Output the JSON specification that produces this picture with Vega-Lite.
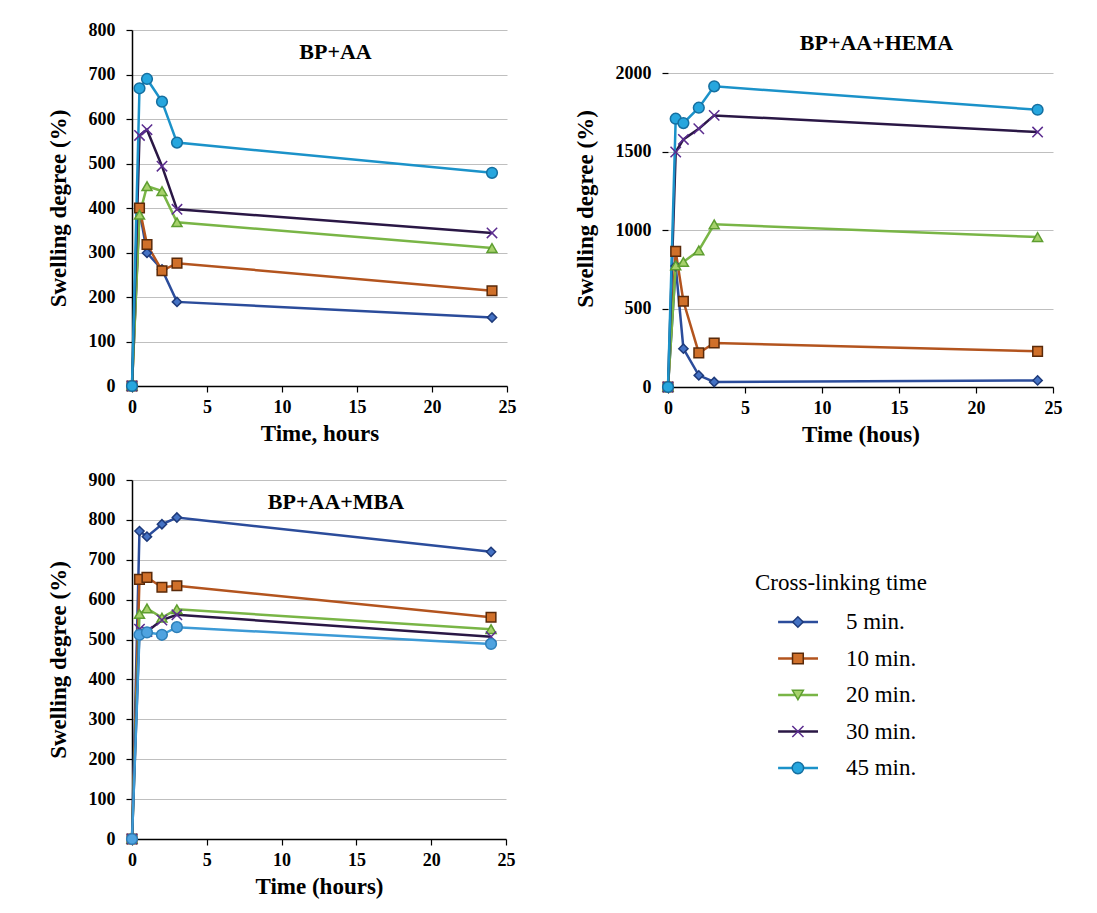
{
  "$schema": "https://vega.github.io/schema/vega-lite/v6.json",
  "background": "white",
  "padding": {"left": 47, "top": 21, "right": 5, "bottom": 5},
  "bounds": "flush",
  "columns": 2,
  "spacing": {"row": 93, "column": 161},
  "datasets": {
    "main": [
      {"panel": "BP+AA", "series": "5 min.", "time": 0, "value": 0},
      {"panel": "BP+AA", "series": "5 min.", "time": 0.5, "value": 395},
      {"panel": "BP+AA", "series": "5 min.", "time": 1, "value": 299},
      {"panel": "BP+AA", "series": "5 min.", "time": 2, "value": 262},
      {"panel": "BP+AA", "series": "5 min.", "time": 3, "value": 189},
      {"panel": "BP+AA", "series": "5 min.", "time": 24, "value": 154},
      {"panel": "BP+AA", "series": "10 min.", "time": 0, "value": 0},
      {"panel": "BP+AA", "series": "10 min.", "time": 0.5, "value": 400},
      {"panel": "BP+AA", "series": "10 min.", "time": 1, "value": 318},
      {"panel": "BP+AA", "series": "10 min.", "time": 2, "value": 259},
      {"panel": "BP+AA", "series": "10 min.", "time": 3, "value": 276},
      {"panel": "BP+AA", "series": "10 min.", "time": 24, "value": 214},
      {"panel": "BP+AA", "series": "20 min.", "time": 0, "value": 0},
      {"panel": "BP+AA", "series": "20 min.", "time": 0.5, "value": 385},
      {"panel": "BP+AA", "series": "20 min.", "time": 1, "value": 449},
      {"panel": "BP+AA", "series": "20 min.", "time": 2, "value": 438},
      {"panel": "BP+AA", "series": "20 min.", "time": 3, "value": 368},
      {"panel": "BP+AA", "series": "20 min.", "time": 24, "value": 310},
      {"panel": "BP+AA", "series": "30 min.", "time": 0, "value": 0},
      {"panel": "BP+AA", "series": "30 min.", "time": 0.5, "value": 563},
      {"panel": "BP+AA", "series": "30 min.", "time": 1, "value": 576},
      {"panel": "BP+AA", "series": "30 min.", "time": 2, "value": 494},
      {"panel": "BP+AA", "series": "30 min.", "time": 3, "value": 397},
      {"panel": "BP+AA", "series": "30 min.", "time": 24, "value": 344},
      {"panel": "BP+AA", "series": "45 min.", "time": 0, "value": 0},
      {"panel": "BP+AA", "series": "45 min.", "time": 0.5, "value": 669},
      {"panel": "BP+AA", "series": "45 min.", "time": 1, "value": 690},
      {"panel": "BP+AA", "series": "45 min.", "time": 2, "value": 639},
      {"panel": "BP+AA", "series": "45 min.", "time": 3, "value": 547},
      {"panel": "BP+AA", "series": "45 min.", "time": 24, "value": 479},
      {"panel": "BP+AA+HEMA", "series": "5 min.", "time": 0, "value": 0},
      {"panel": "BP+AA+HEMA", "series": "5 min.", "time": 0.5, "value": 770},
      {"panel": "BP+AA+HEMA", "series": "5 min.", "time": 1, "value": 244},
      {"panel": "BP+AA+HEMA", "series": "5 min.", "time": 2, "value": 74},
      {"panel": "BP+AA+HEMA", "series": "5 min.", "time": 3, "value": 32},
      {"panel": "BP+AA+HEMA", "series": "5 min.", "time": 24, "value": 42},
      {"panel": "BP+AA+HEMA", "series": "10 min.", "time": 0, "value": 0},
      {"panel": "BP+AA+HEMA", "series": "10 min.", "time": 0.5, "value": 864},
      {"panel": "BP+AA+HEMA", "series": "10 min.", "time": 1, "value": 546},
      {"panel": "BP+AA+HEMA", "series": "10 min.", "time": 2, "value": 217},
      {"panel": "BP+AA+HEMA", "series": "10 min.", "time": 3, "value": 280},
      {"panel": "BP+AA+HEMA", "series": "10 min.", "time": 24, "value": 227},
      {"panel": "BP+AA+HEMA", "series": "20 min.", "time": 0, "value": 0},
      {"panel": "BP+AA+HEMA", "series": "20 min.", "time": 0.5, "value": 775},
      {"panel": "BP+AA+HEMA", "series": "20 min.", "time": 1, "value": 796},
      {"panel": "BP+AA+HEMA", "series": "20 min.", "time": 2, "value": 870},
      {"panel": "BP+AA+HEMA", "series": "20 min.", "time": 3, "value": 1036},
      {"panel": "BP+AA+HEMA", "series": "20 min.", "time": 24, "value": 955},
      {"panel": "BP+AA+HEMA", "series": "30 min.", "time": 0, "value": 0},
      {"panel": "BP+AA+HEMA", "series": "30 min.", "time": 0.5, "value": 1497},
      {"panel": "BP+AA+HEMA", "series": "30 min.", "time": 1, "value": 1577},
      {"panel": "BP+AA+HEMA", "series": "30 min.", "time": 2, "value": 1645},
      {"panel": "BP+AA+HEMA", "series": "30 min.", "time": 3, "value": 1730},
      {"panel": "BP+AA+HEMA", "series": "30 min.", "time": 24, "value": 1624},
      {"panel": "BP+AA+HEMA", "series": "45 min.", "time": 0, "value": 0},
      {"panel": "BP+AA+HEMA", "series": "45 min.", "time": 0.5, "value": 1709},
      {"panel": "BP+AA+HEMA", "series": "45 min.", "time": 1, "value": 1681},
      {"panel": "BP+AA+HEMA", "series": "45 min.", "time": 2, "value": 1779},
      {"panel": "BP+AA+HEMA", "series": "45 min.", "time": 3, "value": 1915},
      {"panel": "BP+AA+HEMA", "series": "45 min.", "time": 24, "value": 1766},
      {"panel": "BP+AA+MBA", "series": "5 min.", "time": 0, "value": 0},
      {"panel": "BP+AA+MBA", "series": "5 min.", "time": 0.5, "value": 772},
      {"panel": "BP+AA+MBA", "series": "5 min.", "time": 1, "value": 758},
      {"panel": "BP+AA+MBA", "series": "5 min.", "time": 2, "value": 789},
      {"panel": "BP+AA+MBA", "series": "5 min.", "time": 3, "value": 806},
      {"panel": "BP+AA+MBA", "series": "5 min.", "time": 24, "value": 720},
      {"panel": "BP+AA+MBA", "series": "10 min.", "time": 0, "value": 0},
      {"panel": "BP+AA+MBA", "series": "10 min.", "time": 0.5, "value": 651},
      {"panel": "BP+AA+MBA", "series": "10 min.", "time": 1, "value": 656},
      {"panel": "BP+AA+MBA", "series": "10 min.", "time": 2, "value": 631},
      {"panel": "BP+AA+MBA", "series": "10 min.", "time": 3, "value": 635},
      {"panel": "BP+AA+MBA", "series": "10 min.", "time": 24, "value": 556},
      {"panel": "BP+AA+MBA", "series": "20 min.", "time": 0, "value": 0},
      {"panel": "BP+AA+MBA", "series": "20 min.", "time": 0.5, "value": 564},
      {"panel": "BP+AA+MBA", "series": "20 min.", "time": 1, "value": 578},
      {"panel": "BP+AA+MBA", "series": "20 min.", "time": 2, "value": 555},
      {"panel": "BP+AA+MBA", "series": "20 min.", "time": 3, "value": 576},
      {"panel": "BP+AA+MBA", "series": "20 min.", "time": 24, "value": 526},
      {"panel": "BP+AA+MBA", "series": "30 min.", "time": 0, "value": 0},
      {"panel": "BP+AA+MBA", "series": "30 min.", "time": 0.5, "value": 526},
      {"panel": "BP+AA+MBA", "series": "30 min.", "time": 1, "value": 520},
      {"panel": "BP+AA+MBA", "series": "30 min.", "time": 2, "value": 549},
      {"panel": "BP+AA+MBA", "series": "30 min.", "time": 3, "value": 562},
      {"panel": "BP+AA+MBA", "series": "30 min.", "time": 24, "value": 507},
      {"panel": "BP+AA+MBA", "series": "45 min.", "time": 0, "value": 0},
      {"panel": "BP+AA+MBA", "series": "45 min.", "time": 0.5, "value": 512},
      {"panel": "BP+AA+MBA", "series": "45 min.", "time": 1, "value": 518},
      {"panel": "BP+AA+MBA", "series": "45 min.", "time": 2, "value": 512},
      {"panel": "BP+AA+MBA", "series": "45 min.", "time": 3, "value": 531},
      {"panel": "BP+AA+MBA", "series": "45 min.", "time": 24, "value": 489}
    ]
  },
  "concat": [
    {
      "width": 375,
      "height": 356,
      "title": {"text": "BP+AA", "offset": -43, "dx": 16},
      "data": {"name": "main"},
      "transform": [{"filter": "datum.panel === 'BP+AA'"}],
      "encoding": {
        "x": {"field": "time", "type": "quantitative", "scale": {"domain": [0, 25], "nice": false}, "axis": {"values": [0, 5, 10, 15, 20, 25], "title": "Time, hours"}},
        "y": {"field": "value", "type": "quantitative", "scale": {"domain": [0, 800], "nice": false}, "axis": {"values": [0, 100, 200, 300, 400, 500, 600, 700, 800], "title": "Swelling degree (%)", "format": "d"}}
      },
      "layer": [
        {
          "mark": {"type": "line", "strokeWidth": 2.5},
          "encoding": {
            "color": {"field": "series", "type": "nominal", "legend": null, "scale": {"domain": ["5 min.", "10 min.", "20 min.", "30 min.", "45 min."], "range": ["#2B4C9B", "#B3541E", "#79B546", "#2A1745", "#1B92C9"]}}
          }
        },
        {
          "mark": {"type": "point", "filled": true, "opacity": 1, "strokeWidth": 1.5},
          "encoding": {
            "fill": {"field": "series", "type": "nominal", "legend": null, "scale": {"domain": ["5 min.", "10 min.", "20 min.", "30 min.", "45 min."], "range": ["#4472C4", "#D0702A", "#A6D16B", "#2A1745", "#26A6DE"]}},
            "stroke": {"field": "series", "type": "nominal", "legend": null, "scale": {"domain": ["5 min.", "10 min.", "20 min.", "30 min.", "45 min."], "range": ["#1E3A7A", "#5A2A0A", "#5E9E30", "#5B2C8F", "#156FA0"]}},
            "shape": {"field": "series", "type": "nominal", "legend": null, "scale": {"domain": ["5 min.", "10 min.", "20 min.", "30 min.", "45 min."], "range": ["diamond", "square", "triangle-up", "M-1,-1L1,1M-1,1L1,-1", "circle"]}},
            "size": {"field": "series", "type": "nominal", "legend": null, "scale": {"domain": ["5 min.", "10 min.", "20 min.", "30 min.", "45 min."], "range": [85, 115, 95, 110, 60]}}
          }
        }
      ]
    },
    {
      "width": 385,
      "height": 357,
      "title": {"text": "BP+AA+HEMA", "offset": -25, "dx": 16},
      "data": {"name": "main"},
      "transform": [{"filter": "datum.panel === 'BP+AA+HEMA'"}],
      "encoding": {
        "x": {"field": "time", "type": "quantitative", "scale": {"domain": [0, 25], "nice": false}, "axis": {"values": [0, 5, 10, 15, 20, 25], "title": "Time (hous)"}},
        "y": {"field": "value", "type": "quantitative", "scale": {"domain": [0, 2274], "nice": false}, "axis": {"values": [0, 500, 1000, 1500, 2000], "title": "Swelling degree (%)", "domain": false, "format": "d"}}
      },
      "layer": [
        {
          "data": {"values": [{"axis": "y"}]},
          "mark": {"type": "rule", "color": "#000", "strokeWidth": 1.5},
          "encoding": {
            "x": {"datum": 0, "type": "quantitative"},
            "y": {"datum": 0, "type": "quantitative"},
            "y2": {"datum": 2180}
          }
        },
        {
          "mark": {"type": "line", "strokeWidth": 2.5},
          "encoding": {
            "color": {"field": "series", "type": "nominal", "legend": null, "scale": {"domain": ["5 min.", "10 min.", "20 min.", "30 min.", "45 min."], "range": ["#2B4C9B", "#B3541E", "#79B546", "#2A1745", "#1B92C9"]}}
          }
        },
        {
          "mark": {"type": "point", "filled": true, "opacity": 1, "strokeWidth": 1.5},
          "encoding": {
            "fill": {"field": "series", "type": "nominal", "legend": null, "scale": {"domain": ["5 min.", "10 min.", "20 min.", "30 min.", "45 min."], "range": ["#4472C4", "#D0702A", "#A6D16B", "#2A1745", "#26A6DE"]}},
            "stroke": {"field": "series", "type": "nominal", "legend": null, "scale": {"domain": ["5 min.", "10 min.", "20 min.", "30 min.", "45 min."], "range": ["#1E3A7A", "#5A2A0A", "#5E9E30", "#5B2C8F", "#156FA0"]}},
            "shape": {"field": "series", "type": "nominal", "legend": null, "scale": {"domain": ["5 min.", "10 min.", "20 min.", "30 min.", "45 min."], "range": ["diamond", "square", "triangle-up", "M-1,-1L1,1M-1,1L1,-1", "circle"]}},
            "size": {"field": "series", "type": "nominal", "legend": null, "scale": {"domain": ["5 min.", "10 min.", "20 min.", "30 min.", "45 min."], "range": [85, 115, 95, 110, 60]}}
          }
        }
      ]
    },
    {
      "width": 374,
      "height": 359,
      "title": {"text": "BP+AA+MBA", "offset": -43, "dx": 17},
      "data": {"name": "main"},
      "transform": [{"filter": "datum.panel === 'BP+AA+MBA'"}],
      "encoding": {
        "x": {"field": "time", "type": "quantitative", "scale": {"domain": [0, 25], "nice": false}, "axis": {"values": [0, 5, 10, 15, 20, 25], "title": "Time (hours)"}},
        "y": {"field": "value", "type": "quantitative", "scale": {"domain": [0, 900], "nice": false}, "axis": {"values": [0, 100, 200, 300, 400, 500, 600, 700, 800, 900], "title": "Swelling degree (%)", "format": "d"}}
      },
      "layer": [
        {
          "mark": {"type": "line", "strokeWidth": 2.5},
          "encoding": {
            "color": {"field": "series", "type": "nominal", "legend": null, "scale": {"domain": ["5 min.", "10 min.", "20 min.", "30 min.", "45 min."], "range": ["#2B4C9B", "#B3541E", "#79B546", "#2A1745", "#3C9AD6"]}}
          }
        },
        {
          "mark": {"type": "point", "filled": true, "opacity": 1, "strokeWidth": 1.5},
          "encoding": {
            "fill": {"field": "series", "type": "nominal", "legend": null, "scale": {"domain": ["5 min.", "10 min.", "20 min.", "30 min.", "45 min."], "range": ["#4472C4", "#D0702A", "#A6D16B", "#2A1745", "#4FA3E0"]}},
            "stroke": {"field": "series", "type": "nominal", "legend": null, "scale": {"domain": ["5 min.", "10 min.", "20 min.", "30 min.", "45 min."], "range": ["#1E3A7A", "#5A2A0A", "#5E9E30", "#5B2C8F", "#2E7FB8"]}},
            "shape": {"field": "series", "type": "nominal", "legend": null, "scale": {"domain": ["5 min.", "10 min.", "20 min.", "30 min.", "45 min."], "range": ["diamond", "square", "triangle-up", "M-1,-1L1,1M-1,1L1,-1", "circle"]}},
            "size": {"field": "series", "type": "nominal", "legend": null, "scale": {"domain": ["5 min.", "10 min.", "20 min.", "30 min.", "45 min."], "range": [85, 115, 95, 110, 60]}}
          }
        }
      ]
    },
    {
      "width": 300,
      "height": 359,
      "title": {"text": "Cross-linking time", "anchor": "start", "dx": 87, "offset": -115, "fontWeight": "normal", "fontSize": 23},
      "data": {"name": "main"},
      "transform": [{"filter": "datum.panel === 'BP+AA' && datum.time === 0"}],
      "encoding": {
        "y": {"field": "series", "type": "nominal", "axis": null, "scale": {"type": "point", "domain": ["5 min.", "10 min.", "20 min.", "30 min.", "45 min."], "range": [142, 288], "padding": 0}}
      },
      "layer": [
        {
          "mark": {"type": "rule", "strokeWidth": 2.5},
          "encoding": {
            "x": {"datum": 3.67, "type": "quantitative", "scale": {"domain": [0, 10], "nice": false}, "axis": null},
            "x2": {"datum": 5.0},
            "color": {"field": "series", "type": "nominal", "legend": null, "scale": {"domain": ["5 min.", "10 min.", "20 min.", "30 min.", "45 min."], "range": ["#2B4C9B", "#B3541E", "#79B546", "#2A1745", "#1B92C9"]}}
          }
        },
        {
          "mark": {"type": "point", "filled": true, "opacity": 1, "strokeWidth": 1.5},
          "encoding": {
            "x": {"datum": 4.33, "type": "quantitative"},
            "fill": {"field": "series", "type": "nominal", "legend": null, "scale": {"domain": ["5 min.", "10 min.", "20 min.", "30 min.", "45 min."], "range": ["#4472C4", "#D0702A", "#A6D16B", "#2A1745", "#26A6DE"]}},
            "stroke": {"field": "series", "type": "nominal", "legend": null, "scale": {"domain": ["5 min.", "10 min.", "20 min.", "30 min.", "45 min."], "range": ["#1E3A7A", "#5A2A0A", "#5E9E30", "#5B2C8F", "#156FA0"]}},
            "shape": {"field": "series", "type": "nominal", "legend": null, "scale": {"domain": ["5 min.", "10 min.", "20 min.", "30 min.", "45 min."], "range": ["diamond", "square", "triangle-down", "M-1,-1L1,1M-1,1L1,-1", "circle"]}},
            "size": {"field": "series", "type": "nominal", "legend": null, "scale": {"domain": ["5 min.", "10 min.", "20 min.", "30 min.", "45 min."], "range": [110, 130, 120, 120, 90]}}
          }
        },
        {
          "mark": {"type": "text", "align": "left", "baseline": "middle", "fontSize": 23, "font": "Liberation Serif", "color": "#000"},
          "encoding": {
            "x": {"datum": 5.93, "type": "quantitative"},
            "text": {"field": "series", "type": "nominal"}
          }
        }
      ]
    }
  ],
  "resolve": {"scale": {"color": "independent", "fill": "independent", "stroke": "independent", "shape": "independent", "size": "independent"}},
  "config": {
    "font": "Liberation Serif",
    "view": {"stroke": null},
    "axis": {
      "labelFont": "Liberation Serif", "labelFontSize": 18, "labelFontWeight": "bold", "labelColor": "#000",
      "titleFont": "Liberation Serif", "titleFontSize": 23, "titleFontWeight": "bold", "titleColor": "#000",
      "domainColor": "#000", "domainWidth": 1.5, "tickColor": "#000", "tickSize": 6, "tickWidth": 1.2,
      "gridColor": "#BFBFBF", "gridWidth": 1.2
    },
    "axisX": {"grid": false, "labelPadding": 6, "titlePadding": 6, "labelFlush": false},
    "axisY": {"grid": true, "labelPadding": 11, "titlePadding": 18},
    "title": {"font": "Liberation Serif", "fontSize": 22, "fontWeight": "bold", "color": "#000", "anchor": "middle", "baseline": "alphabetic"}
  }
}
